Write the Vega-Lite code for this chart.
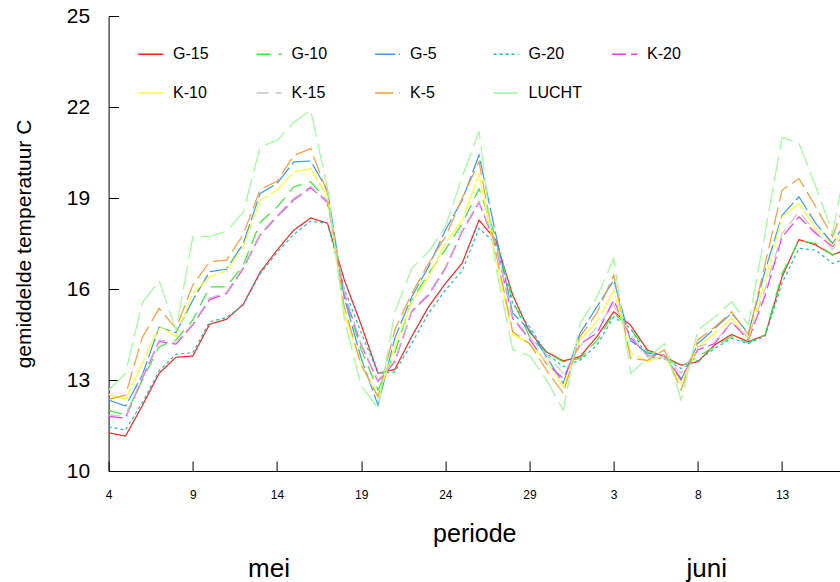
{
"$schema": "https://vega.github.io/schema/vega-lite/v6.json",
"width": 731.4, "height": 455,
"autosize": {"type": "none"},
"padding": {"left": 108.6, "top": 16, "right": 0, "bottom": 111},
"background": "white",
"config": {
  "view": {"stroke": null},
  "font": "Liberation Sans",
  "axis": {"grid": false, "domainColor": "#000", "tickColor": "#000", "labelColor": "#000", "titleColor": "#000", "labelFont": "Liberation Sans", "titleFont": "Liberation Sans", "titleFontWeight": "normal", "domainWidth": 1, "tickWidth": 1},
  "legend": {"orient": "none", "direction": "horizontal", "legendX": 28.5, "legendY": 24.5, "columns": 5, "gridAlign": "all", "symbolType": "stroke", "symbolSize": 625, "symbolStrokeWidth": 1.5, "labelFontSize": 16, "labelFont": "Liberation Sans", "labelColor": "#000", "labelOffset": 9, "columnPadding": 26.5, "rowPadding": 17, "padding": 0}
},
"data": {"values": [
{"dag":"2005-05-04","reeks":"G-15","temp":11.26},{"dag":"2005-05-05","reeks":"G-15","temp":11.15},{"dag":"2005-05-06","reeks":"G-15","temp":12.15},{"dag":"2005-05-07","reeks":"G-15","temp":13.22},{"dag":"2005-05-08","reeks":"G-15","temp":13.75},{"dag":"2005-05-09","reeks":"G-15","temp":13.79},{"dag":"2005-05-10","reeks":"G-15","temp":14.84},{"dag":"2005-05-11","reeks":"G-15","temp":15.0},{"dag":"2005-05-12","reeks":"G-15","temp":15.5},{"dag":"2005-05-13","reeks":"G-15","temp":16.55},{"dag":"2005-05-14","reeks":"G-15","temp":17.28},{"dag":"2005-05-15","reeks":"G-15","temp":17.94},{"dag":"2005-05-16","reeks":"G-15","temp":18.34},{"dag":"2005-05-17","reeks":"G-15","temp":18.17},{"dag":"2005-05-18","reeks":"G-15","temp":16.3},{"dag":"2005-05-19","reeks":"G-15","temp":14.82},{"dag":"2005-05-20","reeks":"G-15","temp":13.22},{"dag":"2005-05-21","reeks":"G-15","temp":13.35},{"dag":"2005-05-22","reeks":"G-15","temp":14.43},{"dag":"2005-05-23","reeks":"G-15","temp":15.41},{"dag":"2005-05-24","reeks":"G-15","temp":16.18},{"dag":"2005-05-25","reeks":"G-15","temp":16.85},{"dag":"2005-05-26","reeks":"G-15","temp":18.27},{"dag":"2005-05-27","reeks":"G-15","temp":17.61},{"dag":"2005-05-28","reeks":"G-15","temp":15.8},{"dag":"2005-05-29","reeks":"G-15","temp":14.59},{"dag":"2005-05-30","reeks":"G-15","temp":13.93},{"dag":"2005-05-31","reeks":"G-15","temp":13.63},{"dag":"2005-06-01","reeks":"G-15","temp":13.77},{"dag":"2005-06-02","reeks":"G-15","temp":14.43},{"dag":"2005-06-03","reeks":"G-15","temp":15.25},{"dag":"2005-06-04","reeks":"G-15","temp":14.81},{"dag":"2005-06-05","reeks":"G-15","temp":13.99},{"dag":"2005-06-06","reeks":"G-15","temp":13.77},{"dag":"2005-06-07","reeks":"G-15","temp":13.49},{"dag":"2005-06-08","reeks":"G-15","temp":13.6},{"dag":"2005-06-09","reeks":"G-15","temp":14.16},{"dag":"2005-06-10","reeks":"G-15","temp":14.5},{"dag":"2005-06-11","reeks":"G-15","temp":14.26},{"dag":"2005-06-12","reeks":"G-15","temp":14.48},{"dag":"2005-06-13","reeks":"G-15","temp":16.4},{"dag":"2005-06-14","reeks":"G-15","temp":17.63},{"dag":"2005-06-15","reeks":"G-15","temp":17.45},{"dag":"2005-06-16","reeks":"G-15","temp":17.12},{"dag":"2005-06-17","reeks":"G-15","temp":17.35},
{"dag":"2005-05-04","reeks":"G-10","temp":12.0},{"dag":"2005-05-05","reeks":"G-10","temp":11.85},{"dag":"2005-05-06","reeks":"G-10","temp":13.0},{"dag":"2005-05-07","reeks":"G-10","temp":14.1},{"dag":"2005-05-08","reeks":"G-10","temp":14.32},{"dag":"2005-05-09","reeks":"G-10","temp":14.98},{"dag":"2005-05-10","reeks":"G-10","temp":16.07},{"dag":"2005-05-11","reeks":"G-10","temp":16.07},{"dag":"2005-05-12","reeks":"G-10","temp":16.79},{"dag":"2005-05-13","reeks":"G-10","temp":18.2},{"dag":"2005-05-14","reeks":"G-10","temp":18.7},{"dag":"2005-05-15","reeks":"G-10","temp":19.37},{"dag":"2005-05-16","reeks":"G-10","temp":19.53},{"dag":"2005-05-17","reeks":"G-10","temp":18.9},{"dag":"2005-05-18","reeks":"G-10","temp":15.8},{"dag":"2005-05-19","reeks":"G-10","temp":14.0},{"dag":"2005-05-20","reeks":"G-10","temp":12.67},{"dag":"2005-05-21","reeks":"G-10","temp":13.9},{"dag":"2005-05-22","reeks":"G-10","temp":15.63},{"dag":"2005-05-23","reeks":"G-10","temp":16.51},{"dag":"2005-05-24","reeks":"G-10","temp":17.3},{"dag":"2005-05-25","reeks":"G-10","temp":18.16},{"dag":"2005-05-26","reeks":"G-10","temp":19.3},{"dag":"2005-05-27","reeks":"G-10","temp":17.7},{"dag":"2005-05-28","reeks":"G-10","temp":15.63},{"dag":"2005-05-29","reeks":"G-10","temp":14.43},{"dag":"2005-05-30","reeks":"G-10","temp":13.9},{"dag":"2005-05-31","reeks":"G-10","temp":13.6},{"dag":"2005-06-01","reeks":"G-10","temp":13.71},{"dag":"2005-06-02","reeks":"G-10","temp":14.3},{"dag":"2005-06-03","reeks":"G-10","temp":15.2},{"dag":"2005-06-04","reeks":"G-10","temp":14.7},{"dag":"2005-06-05","reeks":"G-10","temp":13.93},{"dag":"2005-06-06","reeks":"G-10","temp":13.77},{"dag":"2005-06-07","reeks":"G-10","temp":13.44},{"dag":"2005-06-08","reeks":"G-10","temp":13.77},{"dag":"2005-06-09","reeks":"G-10","temp":14.1},{"dag":"2005-06-10","reeks":"G-10","temp":14.43},{"dag":"2005-06-11","reeks":"G-10","temp":14.23},{"dag":"2005-06-12","reeks":"G-10","temp":14.5},{"dag":"2005-06-13","reeks":"G-10","temp":16.5},{"dag":"2005-06-14","reeks":"G-10","temp":17.6},{"dag":"2005-06-15","reeks":"G-10","temp":17.5},{"dag":"2005-06-16","reeks":"G-10","temp":17.12},{"dag":"2005-06-17","reeks":"G-10","temp":17.5},
{"dag":"2005-05-04","reeks":"G-5","temp":12.34},{"dag":"2005-05-05","reeks":"G-5","temp":12.14},{"dag":"2005-05-06","reeks":"G-5","temp":13.16},{"dag":"2005-05-07","reeks":"G-5","temp":14.75},{"dag":"2005-05-08","reeks":"G-5","temp":14.56},{"dag":"2005-05-09","reeks":"G-5","temp":15.63},{"dag":"2005-05-10","reeks":"G-5","temp":16.57},{"dag":"2005-05-11","reeks":"G-5","temp":16.65},{"dag":"2005-05-12","reeks":"G-5","temp":17.5},{"dag":"2005-05-13","reeks":"G-5","temp":19.15},{"dag":"2005-05-14","reeks":"G-5","temp":19.48},{"dag":"2005-05-15","reeks":"G-5","temp":20.19},{"dag":"2005-05-16","reeks":"G-5","temp":20.22},{"dag":"2005-05-17","reeks":"G-5","temp":19.26},{"dag":"2005-05-18","reeks":"G-5","temp":15.7},{"dag":"2005-05-19","reeks":"G-5","temp":13.72},{"dag":"2005-05-20","reeks":"G-5","temp":12.17},{"dag":"2005-05-21","reeks":"G-5","temp":14.38},{"dag":"2005-05-22","reeks":"G-5","temp":15.74},{"dag":"2005-05-23","reeks":"G-5","temp":16.73},{"dag":"2005-05-24","reeks":"G-5","temp":17.94},{"dag":"2005-05-25","reeks":"G-5","temp":18.93},{"dag":"2005-05-26","reeks":"G-5","temp":20.41},{"dag":"2005-05-27","reeks":"G-5","temp":17.8},{"dag":"2005-05-28","reeks":"G-5","temp":15.2},{"dag":"2005-05-29","reeks":"G-5","temp":14.65},{"dag":"2005-05-30","reeks":"G-5","temp":13.77},{"dag":"2005-05-31","reeks":"G-5","temp":12.89},{"dag":"2005-06-01","reeks":"G-5","temp":14.54},{"dag":"2005-06-02","reeks":"G-5","temp":15.41},{"dag":"2005-06-03","reeks":"G-5","temp":16.29},{"dag":"2005-06-04","reeks":"G-5","temp":14.3},{"dag":"2005-06-05","reeks":"G-5","temp":13.88},{"dag":"2005-06-06","reeks":"G-5","temp":13.82},{"dag":"2005-06-07","reeks":"G-5","temp":13.0},{"dag":"2005-06-08","reeks":"G-5","temp":14.2},{"dag":"2005-06-09","reeks":"G-5","temp":14.7},{"dag":"2005-06-10","reeks":"G-5","temp":15.2},{"dag":"2005-06-11","reeks":"G-5","temp":14.54},{"dag":"2005-06-12","reeks":"G-5","temp":16.62},{"dag":"2005-06-13","reeks":"G-5","temp":18.43},{"dag":"2005-06-14","reeks":"G-5","temp":19.04},{"dag":"2005-06-15","reeks":"G-5","temp":18.16},{"dag":"2005-06-16","reeks":"G-5","temp":17.5},{"dag":"2005-06-17","reeks":"G-5","temp":18.4},
{"dag":"2005-05-04","reeks":"G-20","temp":11.46},{"dag":"2005-05-05","reeks":"G-20","temp":11.35},{"dag":"2005-05-06","reeks":"G-20","temp":12.25},{"dag":"2005-05-07","reeks":"G-20","temp":13.3},{"dag":"2005-05-08","reeks":"G-20","temp":13.85},{"dag":"2005-05-09","reeks":"G-20","temp":13.9},{"dag":"2005-05-10","reeks":"G-20","temp":14.92},{"dag":"2005-05-11","reeks":"G-20","temp":15.06},{"dag":"2005-05-12","reeks":"G-20","temp":15.47},{"dag":"2005-05-13","reeks":"G-20","temp":16.5},{"dag":"2005-05-14","reeks":"G-20","temp":17.2},{"dag":"2005-05-15","reeks":"G-20","temp":17.8},{"dag":"2005-05-16","reeks":"G-20","temp":18.24},{"dag":"2005-05-17","reeks":"G-20","temp":18.16},{"dag":"2005-05-18","reeks":"G-20","temp":16.0},{"dag":"2005-05-19","reeks":"G-20","temp":14.56},{"dag":"2005-05-20","reeks":"G-20","temp":13.22},{"dag":"2005-05-21","reeks":"G-20","temp":13.27},{"dag":"2005-05-22","reeks":"G-20","temp":14.2},{"dag":"2005-05-23","reeks":"G-20","temp":15.2},{"dag":"2005-05-24","reeks":"G-20","temp":15.96},{"dag":"2005-05-25","reeks":"G-20","temp":16.6},{"dag":"2005-05-26","reeks":"G-20","temp":18.0},{"dag":"2005-05-27","reeks":"G-20","temp":17.5},{"dag":"2005-05-28","reeks":"G-20","temp":15.52},{"dag":"2005-05-29","reeks":"G-20","temp":14.75},{"dag":"2005-05-30","reeks":"G-20","temp":13.88},{"dag":"2005-05-31","reeks":"G-20","temp":13.44},{"dag":"2005-06-01","reeks":"G-20","temp":13.65},{"dag":"2005-06-02","reeks":"G-20","temp":14.15},{"dag":"2005-06-03","reeks":"G-20","temp":15.08},{"dag":"2005-06-04","reeks":"G-20","temp":14.7},{"dag":"2005-06-05","reeks":"G-20","temp":13.77},{"dag":"2005-06-06","reeks":"G-20","temp":13.7},{"dag":"2005-06-07","reeks":"G-20","temp":13.38},{"dag":"2005-06-08","reeks":"G-20","temp":13.65},{"dag":"2005-06-09","reeks":"G-20","temp":14.04},{"dag":"2005-06-10","reeks":"G-20","temp":14.37},{"dag":"2005-06-11","reeks":"G-20","temp":14.2},{"dag":"2005-06-12","reeks":"G-20","temp":14.45},{"dag":"2005-06-13","reeks":"G-20","temp":16.2},{"dag":"2005-06-14","reeks":"G-20","temp":17.34},{"dag":"2005-06-15","reeks":"G-20","temp":17.28},{"dag":"2005-06-16","reeks":"G-20","temp":16.84},{"dag":"2005-06-17","reeks":"G-20","temp":17.05},
{"dag":"2005-05-04","reeks":"K-20","temp":11.8},{"dag":"2005-05-05","reeks":"K-20","temp":11.74},{"dag":"2005-05-06","reeks":"K-20","temp":13.05},{"dag":"2005-05-07","reeks":"K-20","temp":14.27},{"dag":"2005-05-08","reeks":"K-20","temp":14.18},{"dag":"2005-05-09","reeks":"K-20","temp":14.82},{"dag":"2005-05-10","reeks":"K-20","temp":15.65},{"dag":"2005-05-11","reeks":"K-20","temp":15.85},{"dag":"2005-05-12","reeks":"K-20","temp":16.68},{"dag":"2005-05-13","reeks":"K-20","temp":17.78},{"dag":"2005-05-14","reeks":"K-20","temp":18.38},{"dag":"2005-05-15","reeks":"K-20","temp":18.94},{"dag":"2005-05-16","reeks":"K-20","temp":19.34},{"dag":"2005-05-17","reeks":"K-20","temp":18.85},{"dag":"2005-05-18","reeks":"K-20","temp":15.85},{"dag":"2005-05-19","reeks":"K-20","temp":14.15},{"dag":"2005-05-20","reeks":"K-20","temp":12.95},{"dag":"2005-05-21","reeks":"K-20","temp":13.6},{"dag":"2005-05-22","reeks":"K-20","temp":15.25},{"dag":"2005-05-23","reeks":"K-20","temp":15.8},{"dag":"2005-05-24","reeks":"K-20","temp":16.68},{"dag":"2005-05-25","reeks":"K-20","temp":17.89},{"dag":"2005-05-26","reeks":"K-20","temp":18.85},{"dag":"2005-05-27","reeks":"K-20","temp":17.45},{"dag":"2005-05-28","reeks":"K-20","temp":15.03},{"dag":"2005-05-29","reeks":"K-20","temp":14.35},{"dag":"2005-05-30","reeks":"K-20","temp":13.55},{"dag":"2005-05-31","reeks":"K-20","temp":13.05},{"dag":"2005-06-01","reeks":"K-20","temp":14.2},{"dag":"2005-06-02","reeks":"K-20","temp":14.54},{"dag":"2005-06-03","reeks":"K-20","temp":15.63},{"dag":"2005-06-04","reeks":"K-20","temp":14.4},{"dag":"2005-06-05","reeks":"K-20","temp":13.8},{"dag":"2005-06-06","reeks":"K-20","temp":13.8},{"dag":"2005-06-07","reeks":"K-20","temp":13.05},{"dag":"2005-06-08","reeks":"K-20","temp":14.0},{"dag":"2005-06-09","reeks":"K-20","temp":14.2},{"dag":"2005-06-10","reeks":"K-20","temp":14.92},{"dag":"2005-06-11","reeks":"K-20","temp":14.32},{"dag":"2005-06-12","reeks":"K-20","temp":15.8},{"dag":"2005-06-13","reeks":"K-20","temp":17.72},{"dag":"2005-06-14","reeks":"K-20","temp":18.38},{"dag":"2005-06-15","reeks":"K-20","temp":17.83},{"dag":"2005-06-16","reeks":"K-20","temp":17.4},{"dag":"2005-06-17","reeks":"K-20","temp":17.9},
{"dag":"2005-05-04","reeks":"K-10","temp":12.53},{"dag":"2005-05-05","reeks":"K-10","temp":12.36},{"dag":"2005-05-06","reeks":"K-10","temp":13.55},{"dag":"2005-05-07","reeks":"K-10","temp":14.78},{"dag":"2005-05-08","reeks":"K-10","temp":14.43},{"dag":"2005-05-09","reeks":"K-10","temp":15.85},{"dag":"2005-05-10","reeks":"K-10","temp":16.4},{"dag":"2005-05-11","reeks":"K-10","temp":16.6},{"dag":"2005-05-12","reeks":"K-10","temp":17.39},{"dag":"2005-05-13","reeks":"K-10","temp":18.93},{"dag":"2005-05-14","reeks":"K-10","temp":19.26},{"dag":"2005-05-15","reeks":"K-10","temp":19.86},{"dag":"2005-05-16","reeks":"K-10","temp":19.97},{"dag":"2005-05-17","reeks":"K-10","temp":19.04},{"dag":"2005-05-18","reeks":"K-10","temp":15.2},{"dag":"2005-05-19","reeks":"K-10","temp":13.5},{"dag":"2005-05-20","reeks":"K-10","temp":12.45},{"dag":"2005-05-21","reeks":"K-10","temp":14.1},{"dag":"2005-05-22","reeks":"K-10","temp":15.58},{"dag":"2005-05-23","reeks":"K-10","temp":16.4},{"dag":"2005-05-24","reeks":"K-10","temp":17.5},{"dag":"2005-05-25","reeks":"K-10","temp":18.27},{"dag":"2005-05-26","reeks":"K-10","temp":19.8},{"dag":"2005-05-27","reeks":"K-10","temp":17.0},{"dag":"2005-05-28","reeks":"K-10","temp":14.5},{"dag":"2005-05-29","reeks":"K-10","temp":14.2},{"dag":"2005-05-30","reeks":"K-10","temp":13.6},{"dag":"2005-05-31","reeks":"K-10","temp":12.78},{"dag":"2005-06-01","reeks":"K-10","temp":14.32},{"dag":"2005-06-02","reeks":"K-10","temp":14.92},{"dag":"2005-06-03","reeks":"K-10","temp":15.96},{"dag":"2005-06-04","reeks":"K-10","temp":13.9},{"dag":"2005-06-05","reeks":"K-10","temp":13.6},{"dag":"2005-06-06","reeks":"K-10","temp":13.8},{"dag":"2005-06-07","reeks":"K-10","temp":12.89},{"dag":"2005-06-08","reeks":"K-10","temp":14.1},{"dag":"2005-06-09","reeks":"K-10","temp":14.54},{"dag":"2005-06-10","reeks":"K-10","temp":15.03},{"dag":"2005-06-11","reeks":"K-10","temp":14.37},{"dag":"2005-06-12","reeks":"K-10","temp":16.3},{"dag":"2005-06-13","reeks":"K-10","temp":18.38},{"dag":"2005-06-14","reeks":"K-10","temp":18.82},{"dag":"2005-06-15","reeks":"K-10","temp":18.0},{"dag":"2005-06-16","reeks":"K-10","temp":17.45},{"dag":"2005-06-17","reeks":"K-10","temp":18.2},
{"dag":"2005-05-04","reeks":"K-15","temp":11.85},{"dag":"2005-05-05","reeks":"K-15","temp":11.79},{"dag":"2005-05-06","reeks":"K-15","temp":13.1},{"dag":"2005-05-07","reeks":"K-15","temp":14.32},{"dag":"2005-05-08","reeks":"K-15","temp":14.23},{"dag":"2005-05-09","reeks":"K-15","temp":14.87},{"dag":"2005-05-10","reeks":"K-15","temp":15.7},{"dag":"2005-05-11","reeks":"K-15","temp":15.9},{"dag":"2005-05-12","reeks":"K-15","temp":16.73},{"dag":"2005-05-13","reeks":"K-15","temp":17.83},{"dag":"2005-05-14","reeks":"K-15","temp":18.43},{"dag":"2005-05-15","reeks":"K-15","temp":18.99},{"dag":"2005-05-16","reeks":"K-15","temp":19.39},{"dag":"2005-05-17","reeks":"K-15","temp":18.9},{"dag":"2005-05-18","reeks":"K-15","temp":15.9},{"dag":"2005-05-19","reeks":"K-15","temp":14.2},{"dag":"2005-05-20","reeks":"K-15","temp":13.0},{"dag":"2005-05-21","reeks":"K-15","temp":13.65},{"dag":"2005-05-22","reeks":"K-15","temp":15.3},{"dag":"2005-05-23","reeks":"K-15","temp":15.85},{"dag":"2005-05-24","reeks":"K-15","temp":16.73},{"dag":"2005-05-25","reeks":"K-15","temp":17.94},{"dag":"2005-05-26","reeks":"K-15","temp":18.9},{"dag":"2005-05-27","reeks":"K-15","temp":17.5},{"dag":"2005-05-28","reeks":"K-15","temp":15.08},{"dag":"2005-05-29","reeks":"K-15","temp":14.4},{"dag":"2005-05-30","reeks":"K-15","temp":13.85},{"dag":"2005-05-31","reeks":"K-15","temp":13.22},{"dag":"2005-06-01","reeks":"K-15","temp":14.1},{"dag":"2005-06-02","reeks":"K-15","temp":14.75},{"dag":"2005-06-03","reeks":"K-15","temp":15.47},{"dag":"2005-06-04","reeks":"K-15","temp":14.5},{"dag":"2005-06-05","reeks":"K-15","temp":13.77},{"dag":"2005-06-06","reeks":"K-15","temp":13.75},{"dag":"2005-06-07","reeks":"K-15","temp":13.22},{"dag":"2005-06-08","reeks":"K-15","temp":14.1},{"dag":"2005-06-09","reeks":"K-15","temp":14.26},{"dag":"2005-06-10","reeks":"K-15","temp":14.9},{"dag":"2005-06-11","reeks":"K-15","temp":14.4},{"dag":"2005-06-12","reeks":"K-15","temp":16.0},{"dag":"2005-06-13","reeks":"K-15","temp":17.83},{"dag":"2005-06-14","reeks":"K-15","temp":18.54},{"dag":"2005-06-15","reeks":"K-15","temp":17.9},{"dag":"2005-06-16","reeks":"K-15","temp":17.3},{"dag":"2005-06-17","reeks":"K-15","temp":18.0},
{"dag":"2005-05-04","reeks":"K-5","temp":12.36},{"dag":"2005-05-05","reeks":"K-5","temp":12.5},{"dag":"2005-05-06","reeks":"K-5","temp":14.4},{"dag":"2005-05-07","reeks":"K-5","temp":15.36},{"dag":"2005-05-08","reeks":"K-5","temp":14.7},{"dag":"2005-05-09","reeks":"K-5","temp":16.13},{"dag":"2005-05-10","reeks":"K-5","temp":16.9},{"dag":"2005-05-11","reeks":"K-5","temp":16.95},{"dag":"2005-05-12","reeks":"K-5","temp":17.8},{"dag":"2005-05-13","reeks":"K-5","temp":19.28},{"dag":"2005-05-14","reeks":"K-5","temp":19.55},{"dag":"2005-05-15","reeks":"K-5","temp":20.4},{"dag":"2005-05-16","reeks":"K-5","temp":20.63},{"dag":"2005-05-17","reeks":"K-5","temp":19.16},{"dag":"2005-05-18","reeks":"K-5","temp":15.4},{"dag":"2005-05-19","reeks":"K-5","temp":13.5},{"dag":"2005-05-20","reeks":"K-5","temp":12.45},{"dag":"2005-05-21","reeks":"K-5","temp":14.65},{"dag":"2005-05-22","reeks":"K-5","temp":15.85},{"dag":"2005-05-23","reeks":"K-5","temp":16.84},{"dag":"2005-05-24","reeks":"K-5","temp":17.72},{"dag":"2005-05-25","reeks":"K-5","temp":18.99},{"dag":"2005-05-26","reeks":"K-5","temp":20.2},{"dag":"2005-05-27","reeks":"K-5","temp":17.2},{"dag":"2005-05-28","reeks":"K-5","temp":14.59},{"dag":"2005-05-29","reeks":"K-5","temp":14.2},{"dag":"2005-05-30","reeks":"K-5","temp":13.33},{"dag":"2005-05-31","reeks":"K-5","temp":12.56},{"dag":"2005-06-01","reeks":"K-5","temp":14.43},{"dag":"2005-06-02","reeks":"K-5","temp":15.2},{"dag":"2005-06-03","reeks":"K-5","temp":16.46},{"dag":"2005-06-04","reeks":"K-5","temp":13.71},{"dag":"2005-06-05","reeks":"K-5","temp":13.65},{"dag":"2005-06-06","reeks":"K-5","temp":13.99},{"dag":"2005-06-07","reeks":"K-5","temp":12.67},{"dag":"2005-06-08","reeks":"K-5","temp":14.32},{"dag":"2005-06-09","reeks":"K-5","temp":14.75},{"dag":"2005-06-10","reeks":"K-5","temp":15.25},{"dag":"2005-06-11","reeks":"K-5","temp":14.48},{"dag":"2005-06-12","reeks":"K-5","temp":16.85},{"dag":"2005-06-13","reeks":"K-5","temp":19.26},{"dag":"2005-06-14","reeks":"K-5","temp":19.64},{"dag":"2005-06-15","reeks":"K-5","temp":18.71},{"dag":"2005-06-16","reeks":"K-5","temp":17.72},{"dag":"2005-06-17","reeks":"K-5","temp":19.3},
{"dag":"2005-05-04","reeks":"LUCHT","temp":12.67},{"dag":"2005-05-05","reeks":"LUCHT","temp":13.22},{"dag":"2005-05-06","reeks":"LUCHT","temp":15.55},{"dag":"2005-05-07","reeks":"LUCHT","temp":16.27},{"dag":"2005-05-08","reeks":"LUCHT","temp":14.65},{"dag":"2005-05-09","reeks":"LUCHT","temp":17.72},{"dag":"2005-05-10","reeks":"LUCHT","temp":17.73},{"dag":"2005-05-11","reeks":"LUCHT","temp":17.9},{"dag":"2005-05-12","reeks":"LUCHT","temp":18.54},{"dag":"2005-05-13","reeks":"LUCHT","temp":20.69},{"dag":"2005-05-14","reeks":"LUCHT","temp":20.9},{"dag":"2005-05-15","reeks":"LUCHT","temp":21.5},{"dag":"2005-05-16","reeks":"LUCHT","temp":21.9},{"dag":"2005-05-17","reeks":"LUCHT","temp":19.3},{"dag":"2005-05-18","reeks":"LUCHT","temp":15.0},{"dag":"2005-05-19","reeks":"LUCHT","temp":12.8},{"dag":"2005-05-20","reeks":"LUCHT","temp":12.07},{"dag":"2005-05-21","reeks":"LUCHT","temp":15.25},{"dag":"2005-05-22","reeks":"LUCHT","temp":16.68},{"dag":"2005-05-23","reeks":"LUCHT","temp":17.23},{"dag":"2005-05-24","reeks":"LUCHT","temp":18.05},{"dag":"2005-05-25","reeks":"LUCHT","temp":19.7},{"dag":"2005-05-26","reeks":"LUCHT","temp":21.2},{"dag":"2005-05-27","reeks":"LUCHT","temp":16.73},{"dag":"2005-05-28","reeks":"LUCHT","temp":14.0},{"dag":"2005-05-29","reeks":"LUCHT","temp":13.8},{"dag":"2005-05-30","reeks":"LUCHT","temp":13.0},{"dag":"2005-05-31","reeks":"LUCHT","temp":12.0},{"dag":"2005-06-01","reeks":"LUCHT","temp":14.87},{"dag":"2005-06-02","reeks":"LUCHT","temp":15.74},{"dag":"2005-06-03","reeks":"LUCHT","temp":17.0},{"dag":"2005-06-04","reeks":"LUCHT","temp":13.22},{"dag":"2005-06-05","reeks":"LUCHT","temp":13.71},{"dag":"2005-06-06","reeks":"LUCHT","temp":14.2},{"dag":"2005-06-07","reeks":"LUCHT","temp":12.34},{"dag":"2005-06-08","reeks":"LUCHT","temp":14.65},{"dag":"2005-06-09","reeks":"LUCHT","temp":15.08},{"dag":"2005-06-10","reeks":"LUCHT","temp":15.58},{"dag":"2005-06-11","reeks":"LUCHT","temp":14.81},{"dag":"2005-06-12","reeks":"LUCHT","temp":17.9},{"dag":"2005-06-13","reeks":"LUCHT","temp":21.0},{"dag":"2005-06-14","reeks":"LUCHT","temp":20.8},{"dag":"2005-06-15","reeks":"LUCHT","temp":19.37},{"dag":"2005-06-16","reeks":"LUCHT","temp":17.83},{"dag":"2005-06-17","reeks":"LUCHT","temp":20.8}
]},
"layer": [
  {
    "mark": {"type": "line", "strokeWidth": 1.2, "clip": true},
    "encoding": {
      "x": {"field": "dag", "type": "temporal",
        "scale": {"type": "utc", "domain": [{"year": 2005, "month": 5, "date": 4, "utc": true}, {"year": 2005, "month": 6, "date": 16, "hours": 10, "minutes": 34, "utc": true}]},
        "axis": {"orient": "bottom", "values": [
          {"year": 2005, "month": 5, "date": 4, "utc": true}, {"year": 2005, "month": 5, "date": 9, "utc": true}, {"year": 2005, "month": 5, "date": 14, "utc": true}, {"year": 2005, "month": 5, "date": 19, "utc": true}, {"year": 2005, "month": 5, "date": 24, "utc": true}, {"year": 2005, "month": 5, "date": 29, "utc": true}, {"year": 2005, "month": 6, "date": 3, "utc": true}, {"year": 2005, "month": 6, "date": 8, "utc": true}, {"year": 2005, "month": 6, "date": 13, "utc": true}],
          "labelExpr": "utcFormat(datum.value, '%-d')", "tickSize": -10, "labelPadding": 28, "labelFontSize": 12, "labelFlush": false, "labelOverlap": false,
          "title": "periode", "titleFontSize": 25, "titlePadding": 21}},
      "y": {"field": "temp", "type": "quantitative",
        "scale": {"domain": [10, 25], "nice": false, "zero": false},
        "axis": {"values": [10, 13, 16, 19, 22, 25], "tickSize": -10, "labelPadding": 29, "labelFontSize": 21,
          "title": "gemiddelde temperatuur  C", "titleFontSize": 21, "titlePadding": 32}},
      "color": {"field": "reeks", "type": "nominal",
        "scale": {"domain": ["G-15", "G-10", "G-5", "G-20", "K-20", "K-10", "K-15", "K-5", "LUCHT"],
                  "range": ["#ff2020", "#33ee33", "#3399ff", "#22bbbb", "#ff33ff", "#ffff22", "#c8c8c8", "#ff9933", "#99ff99"]},
        "legend": {"title": null}},
      "strokeDash": {"field": "reeks", "type": "nominal",
        "scale": {"domain": ["G-15", "G-10", "G-5", "G-20", "K-20", "K-10", "K-15", "K-5", "LUCHT"],
                  "range": [[1, 0], [14, 8], [20, 4], [3, 3], [14, 5], [30, 3], [12, 7], [18, 6], [24, 7]]},
        "legend": {"title": null}}
    }
  },
  {
    "mark": {"type": "rule", "opacity": 0},
    "encoding": {
      "x": {"field": "dag", "type": "temporal",
        "axis": {"orient": "bottom", "values": [{"year": 2005, "month": 5, "date": 13, "hours": 12, "utc": true}, {"year": 2005, "month": 6, "date": 8, "hours": 12, "utc": true}],
          "labelExpr": "utcmonth(datum.value) == 4 ? 'mei' : 'juni'", "ticks": false, "domain": false, "labelPadding": 84, "labelFontSize": 26, "labelFlush": false, "labelOverlap": false, "title": null}}
    }
  }
],
"resolve": {"axis": {"x": "independent"}}
}
